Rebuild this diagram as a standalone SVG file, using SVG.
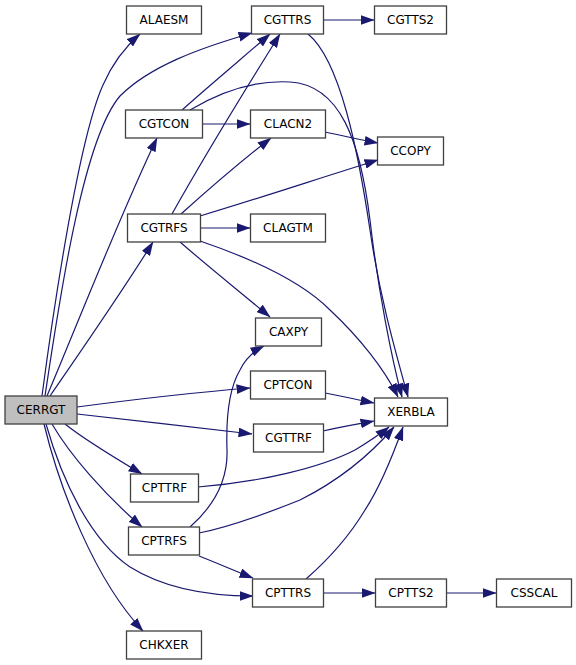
<svg xmlns="http://www.w3.org/2000/svg" width="576" height="665" viewBox="0 0 576 665">
<defs>
<marker id="arr" markerUnits="userSpaceOnUse" markerWidth="14" markerHeight="10" viewBox="0 0 13 9" refX="12.5" refY="4.5" orient="auto">
<path d="M0,0 L13,4.5 L0,9 z" fill="#191970"/>
</marker>
<style>
.n rect{fill:#ffffff;stroke:#404040;stroke-width:1.3}
.n.root rect{fill:#bfbfbf}
.n text{font-family:"DejaVu Sans","Liberation Sans",sans-serif;font-size:12px;fill:#000;text-anchor:middle}
.e path{fill:none;stroke:#191970;stroke-width:1.2;marker-end:url(#arr)}
</style>
</defs>
<rect width="576" height="665" fill="#ffffff"/>
<g id="edges" class="e">
<path d="M42,396 C52,320 78,140 103,85 C113,62 125,47 140,34"/>
<path d="M45,396 C58,310 82,140 120,96 C150,66 200,48 252,33"/>
<path d="M47,396 C80,318 120,215 157,138"/>
<path d="M50,396 C85,345 120,295 153,242"/>
<path d="M77,407 C130,400 200,392 250,388"/>
<path d="M77,414 C130,420 200,428 252,434"/>
<path d="M65,424 C85,440 115,458 142,474"/>
<path d="M52,424 C70,455 105,495 142,527"/>
<path d="M46,424 C62,480 90,540 130,567 C170,592 220,596 253,596"/>
<path d="M44,424 C60,490 95,580 143,631"/>
<path d="M182,110 C210,85 240,60 270,34"/>
<path d="M202,124 L250,124"/>
<path d="M190,110 C220,92 255,80 290,82 C340,85 360,140 370,220 C378,290 392,360 402,397"/>
<path d="M172,214 C205,155 245,90 280,34"/>
<path d="M181,214 C210,188 240,162 271,138"/>
<path d="M200,216 C260,198 320,178 378,160"/>
<path d="M200,228 L250,228"/>
<path d="M180,242 C210,268 240,292 270,317"/>
<path d="M200,241 C250,258 300,280 330,310 C360,338 385,370 398,397"/>
<path d="M323,20 L374,20"/>
<path d="M308,34 C340,60 358,150 370,230 C380,300 398,360 408,397"/>
<path d="M325,132 C345,136 360,140 378,143"/>
<path d="M325,393 C342,396 358,400 374,403"/>
<path d="M323,431 C340,427 358,424 374,421"/>
<path d="M198,487 C260,482 320,468 355,450 C370,441 380,434 389,427"/>
<path d="M199,533 C230,527 270,512 300,500 C340,480 370,455 394,427"/>
<path d="M190,527 C215,505 228,480 227,450 C226,420 228,390 240,370 C245,360 252,352 264,346"/>
<path d="M199,556 C217,563 235,571 253,578"/>
<path d="M306,579 C330,558 350,535 365,510 C380,487 393,455 403,427"/>
<path d="M323,593 L375,593"/>
<path d="M446,593 L496,593"/>
</g>
<g id="CERRGT" class="n root"><rect x="5" y="396" width="72" height="28"/><text x="41" y="414">CERRGT</text></g>
<g id="ALAESM" class="n"><rect x="126.5" y="6" width="75" height="28"/><text x="164" y="24">ALAESM</text></g>
<g id="CGTTRS" class="n"><rect x="251.5" y="6" width="72" height="28"/><text x="287.5" y="24">CGTTRS</text></g>
<g id="CGTTS2" class="n"><rect x="374.5" y="6" width="72" height="28"/><text x="410.5" y="24">CGTTS2</text></g>
<g id="CGTCON" class="n"><rect x="125.5" y="110" width="77" height="28"/><text x="164" y="128">CGTCON</text></g>
<g id="CLACN2" class="n"><rect x="250.5" y="110" width="75" height="28"/><text x="288" y="128">CLACN2</text></g>
<g id="CCOPY" class="n"><rect x="377.5" y="137" width="66" height="28"/><text x="410.5" y="155">CCOPY</text></g>
<g id="CGTRFS" class="n"><rect x="127.5" y="214" width="73" height="28"/><text x="164" y="232">CGTRFS</text></g>
<g id="CLAGTM" class="n"><rect x="250.5" y="214" width="75" height="28"/><text x="288" y="232">CLAGTM</text></g>
<g id="CAXPY" class="n"><rect x="255.5" y="318" width="66" height="28"/><text x="288.5" y="336">CAXPY</text></g>
<g id="CPTCON" class="n"><rect x="250.5" y="371" width="75" height="28"/><text x="288" y="389">CPTCON</text></g>
<g id="XERBLA" class="n"><rect x="374.5" y="398" width="73" height="28"/><text x="411" y="416">XERBLA</text></g>
<g id="CGTTRF" class="n"><rect x="253.5" y="424" width="70" height="28"/><text x="288.5" y="442">CGTTRF</text></g>
<g id="CPTTRF" class="n"><rect x="130.5" y="474" width="68" height="28"/><text x="164.5" y="492">CPTTRF</text></g>
<g id="CPTRFS" class="n"><rect x="128.5" y="527" width="71" height="28"/><text x="164" y="545">CPTRFS</text></g>
<g id="CPTTRS" class="n"><rect x="252.5" y="579" width="71" height="28"/><text x="288" y="597">CPTTRS</text></g>
<g id="CPTTS2" class="n"><rect x="375.5" y="579" width="71" height="28"/><text x="411" y="597">CPTTS2</text></g>
<g id="CSSCAL" class="n"><rect x="496.5" y="579" width="75" height="28"/><text x="534" y="597">CSSCAL</text></g>
<g id="CHKXER" class="n"><rect x="126.5" y="631" width="75" height="28"/><text x="164" y="649">CHKXER</text></g>
</svg>
